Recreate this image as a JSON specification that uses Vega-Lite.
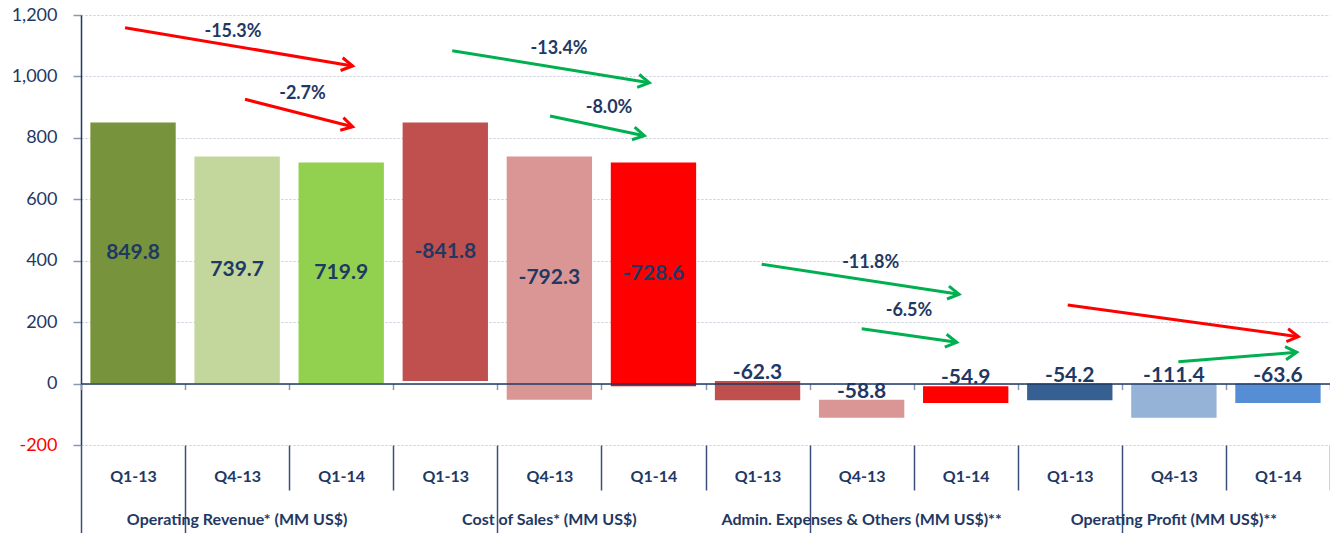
{
  "$schema": "https://vega.github.io/schema/vega-lite/v6.json",
  "width": 1249,
  "height": 430,
  "autosize": {"type": "none"},
  "padding": {"left": 81, "top": 15, "right": 0, "bottom": 88},
  "background": "white",
  "config": {
    "view": {"stroke": null},
    "font": "Lato"
  },
  "datasets": {
    "bars": [
      {"group": "Operating Revenue* (MM US$)", "quarter": "Q1-13", "start": 0, "end": 849.8, "label": "849.8"},
      {"group": "Operating Revenue* (MM US$)", "quarter": "Q4-13", "start": 0, "end": 739.7, "label": "739.7"},
      {"group": "Operating Revenue* (MM US$)", "quarter": "Q1-14", "start": 0, "end": 719.9, "label": "719.9"},
      {"group": "Cost of Sales* (MM US$)", "quarter": "Q1-13", "start": 8.0, "end": 849.8, "label": "-841.8"},
      {"group": "Cost of Sales* (MM US$)", "quarter": "Q4-13", "start": -52.6, "end": 739.7, "label": "-792.3"},
      {"group": "Cost of Sales* (MM US$)", "quarter": "Q1-14", "start": -8.7, "end": 719.9, "label": "-728.6"},
      {"group": "Admin. Expenses & Others (MM US$)**", "quarter": "Q1-13", "start": 8.0, "end": -54.3, "label": "-62.3"},
      {"group": "Admin. Expenses & Others (MM US$)**", "quarter": "Q4-13", "start": -52.6, "end": -111.4, "label": "-58.8"},
      {"group": "Admin. Expenses & Others (MM US$)**", "quarter": "Q1-14", "start": -8.7, "end": -63.6, "label": "-54.9"},
      {"group": "Operating Profit (MM US$)**", "quarter": "Q1-13", "start": 0, "end": -54.2, "label": "-54.2"},
      {"group": "Operating Profit (MM US$)**", "quarter": "Q4-13", "start": 0, "end": -111.4, "label": "-111.4"},
      {"group": "Operating Profit (MM US$)**", "quarter": "Q1-14", "start": 0, "end": -63.6, "label": "-63.6"}
    ],
    "arrows": [
      {"tone": "bad", "x0": 0.423, "y0": 1158.7, "x1": 2.61, "y1": 1034.0, "heading": 9.55},
      {"tone": "bad", "x0": 1.576, "y0": 925.5, "x1": 2.61, "y1": 836.3, "heading": 14.3},
      {"tone": "good", "x0": 3.567, "y0": 1083.8, "x1": 5.46, "y1": 979.6, "heading": 9.23},
      {"tone": "good", "x0": 4.506, "y0": 871.2, "x1": 5.412, "y1": 807.0, "heading": 11.8},
      {"tone": "good", "x0": 6.54, "y0": 388.3, "x1": 8.436, "y1": 290.7, "heading": 8.65},
      {"tone": "good", "x0": 7.501, "y0": 178.7, "x1": 8.414, "y1": 134.4, "heading": 8.15},
      {"tone": "bad", "x0": 9.48, "y0": 255.8, "x1": 11.696, "y1": 152.6, "heading": 7.83},
      {"tone": "good", "x0": 10.543, "y0": 71.2, "x1": 11.68, "y1": 101.8, "heading": -4.54}
    ],
    "notes": [
      {"x": 1.46, "y": 1144.7, "text": "-15.3%"},
      {"x": 2.128, "y": 941.8, "text": "-2.7%"},
      {"x": 4.593, "y": 1089.3, "text": "-13.4%"},
      {"x": 5.073, "y": 898.2, "text": "-8.0%"},
      {"x": 7.587, "y": 391.6, "text": "-11.8%"},
      {"x": 7.955, "y": 237.3, "text": "-6.5%"}
    ]
  },
  "layer": [
    {
      "data": {"name": "bars"},
      "transform": [
        {"calculate": "datum.group + '|' + datum.quarter", "as": "key"},
        {"calculate": "indexof(datum.group, 'Operating Revenue') >= 0 || indexof(datum.group, 'Cost of Sales') >= 0 ? (datum.start + datum.end) / 2 : max(datum.start, datum.end) + 26", "as": "ly"}
      ],
      "layer": [
        {
          "mark": {"type": "bar", "width": {"band": 0.82}},
          "encoding": {
            "x": {
              "field": "key", "type": "nominal", "sort": null,
              "scale": {"type": "band", "paddingInner": 0, "paddingOuter": 0},
              "axis": {
                "title": null, "orient": "bottom", "tickBand": "extent", "domain": false, "grid": false,
                "ticks": true,
                "tickSize": {"condition": {"test": "!isString(datum.value) || indexof(datum.value, 'Q1-13') >= 0", "value": 88}, "value": 45},
                "tickColor": "#3A4F7A", "tickWidth": 1.5,
                "labelExpr": "split(datum.value, '|')[1]",
                "labelFont": "Lato", "labelFontSize": 16, "labelFontWeight": "bold", "labelColor": "#1F3864",
                "labelPadding": {"condition": {"test": "isString(datum.value) && indexof(datum.value, 'Q1-13') >= 0", "value": -57}, "value": -14},
                "labelBaseline": "middle", "labelAngle": 0, "labelOverlap": false
              }
            },
            "y": {
              "field": "start", "type": "quantitative",
              "scale": {"domain": [-200, 1200], "nice": false},
              "axis": {
                "title": null, "values": [-200, 0, 200, 400, 600, 800, 1000, 1200],
                "labelExpr": "replace(format(datum.value, ','), '\u2212', '-')",
                "labelFont": "Lato", "labelFontSize": 18,
                "labelColor": {"condition": {"test": "datum.value < 0", "value": "#FF0000"}, "value": "#1F3864"},
                "labelPadding": 16, "tickSize": 8, "tickColor": "#8A97B5", "tickWidth": 1.5,
                "domainColor": "#1F3864", "domainWidth": 1.5,
                "grid": true, "gridColor": "#C5CAD6", "gridDash": [2, 2], "gridWidth": 1
              }
            },
            "y2": {"field": "end"},
            "color": {
              "field": "key", "type": "nominal", "legend": null,
              "scale": {
                "domain": [
                  "Operating Revenue* (MM US$)|Q1-13", "Operating Revenue* (MM US$)|Q4-13", "Operating Revenue* (MM US$)|Q1-14",
                  "Cost of Sales* (MM US$)|Q1-13", "Cost of Sales* (MM US$)|Q4-13", "Cost of Sales* (MM US$)|Q1-14",
                  "Admin. Expenses & Others (MM US$)**|Q1-13", "Admin. Expenses & Others (MM US$)**|Q4-13", "Admin. Expenses & Others (MM US$)**|Q1-14",
                  "Operating Profit (MM US$)**|Q1-13", "Operating Profit (MM US$)**|Q4-13", "Operating Profit (MM US$)**|Q1-14"
                ],
                "range": [
                  "#77933C", "#C3D69B", "#92D050",
                  "#C0504D", "#D99694", "#FF0000",
                  "#C0504D", "#D99694", "#FF0000",
                  "#376092", "#95B3D7", "#558ED5"
                ]
              }
            }
          }
        },
        {
          "mark": {"type": "text", "font": "Lato", "fontSize": 21, "fontWeight": "bold", "color": "#1F3864", "baseline": "middle", "align": "center"},
          "encoding": {
            "x": {
              "field": "key", "type": "nominal", "sort": null,
              "scale": {"type": "band", "paddingInner": 0, "paddingOuter": 0},
              "axis": {
                "title": null, "orient": "bottom", "domain": false, "grid": false,
                "ticks": false,
                "labelExpr": "isString(datum.value) && indexof(datum.value, 'Q4-13') >= 0 ? split(datum.value, '|')[0] : ''",
                "labelFont": "Lato", "labelFontSize": 16, "labelFontWeight": "bold", "labelColor": "#1F3864",
                "labelPadding": 74, "labelBaseline": "middle", "labelAngle": 0, "labelOverlap": false, "labelBound": false, "labelLimit": 0
              }
            },
            "y": {"field": "ly", "type": "quantitative", "scale": {"domain": [-200, 1200], "nice": false}, "axis": {"title": null}},
            "text": {"field": "label"}
          }
        }
      ],
      "resolve": {"scale": {"x": "independent"}, "axis": {"x": "independent"}}
    },
    {
      "data": {"name": "arrows"},
      "layer": [
        {
          "mark": {"type": "rule", "strokeWidth": 3},
          "encoding": {
            "x": {
              "field": "x0", "type": "quantitative",
              "scale": {"domain": [0, 12], "nice": false, "zero": false},
              "axis": {
                "title": null, "orient": "bottom", "offset": -61.43, "values": [0, 1, 2, 3, 4, 5, 6, 7, 8, 9, 10, 11, 12],
                "labels": false, "grid": false, "domain": true, "domainColor": "#1F3864", "domainWidth": 1.5,
                "ticks": true, "tickSize": 6, "tickColor": "#8A97B5", "tickWidth": 1.5, "zindex": 1
              }
            },
            "x2": {"field": "x1"},
            "y": {"field": "y0", "type": "quantitative", "scale": {"domain": [-200, 1200], "nice": false}, "axis": {"title": null}},
            "y2": {"field": "y1"},
            "color": {"field": "tone", "type": "nominal", "legend": null, "scale": {"domain": ["bad", "good"], "range": ["#FF0000", "#00B050"]}}
          }
        },
        {
          "mark": {"type": "point", "shape": "M-1,-0.58L0,0L-1,0.58", "filled": false, "strokeWidth": 3, "size": 500, "opacity": 1, "strokeJoin": "miter"},
          "encoding": {
            "x": {"field": "x1", "type": "quantitative", "scale": {"domain": [0, 12], "nice": false, "zero": false}, "axis": null},
            "y": {"field": "y1", "type": "quantitative", "scale": {"domain": [-200, 1200], "nice": false}, "axis": {"title": null}},
            "angle": {"field": "heading", "type": "quantitative", "scale": null},
            "color": {"field": "tone", "type": "nominal", "legend": null, "scale": {"domain": ["bad", "good"], "range": ["#FF0000", "#00B050"]}}
          }
        }
      ],
      "resolve": {"scale": {"x": "independent"}, "axis": {"x": "independent"}}
    },
    {
      "data": {"name": "notes"},
      "mark": {"type": "text", "font": "Lato", "fontSize": 18, "fontWeight": "bold", "color": "#1F3864", "baseline": "middle", "align": "center"},
      "encoding": {
        "x": {"field": "x", "type": "quantitative", "scale": {"domain": [0, 12], "nice": false, "zero": false}, "axis": null},
        "y": {"field": "y", "type": "quantitative", "scale": {"domain": [-200, 1200], "nice": false}, "axis": {"title": null}},
        "text": {"field": "text"}
      }
    }
  ],
  "resolve": {"scale": {"x": "independent", "color": "independent"}, "axis": {"x": "independent"}}
}
